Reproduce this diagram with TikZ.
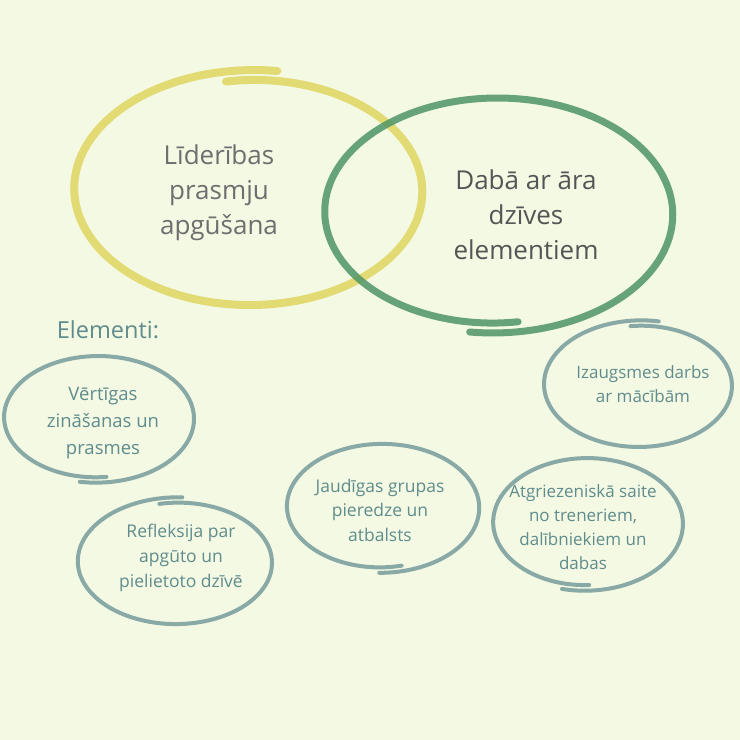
\documentclass[tikz,border=0pt]{standalone}
\usepackage{fontspec}
\setmainfont{Open Sans}
\usetikzlibrary{positioning}

\definecolor{bgcol}{HTML}{F4F9E4}
\definecolor{yellowcol}{HTML}{E2DB74}
\definecolor{greencol}{HTML}{4F9566}
\definecolor{tealcol}{HTML}{88A9A5}
\definecolor{bigtxtcol}{HTML}{6E6E6E}
\definecolor{darktxtcol}{HTML}{555555}
\definecolor{smalltxtcol}{HTML}{5F8C8C}

% hand drawn ring: style, cx, cy, rx, ry, start angle, end angle
\newcommand{\brushring}[7]{%
  \draw[#1] plot[domain=#6:#7, samples=140, smooth]
    ({#2+#4*(0.955+0.09*(\x-#6)/(#7-#6))*cos(\x)},
     {#3+#5*(0.955+0.09*(\x-#6)/(#7-#6))*sin(\x)});
}

\begin{document}
\begin{tikzpicture}[
    x=1pt, y=-1pt,
    yring/.style={draw=yellowcol, line width=8pt, line cap=round},
    gring/.style={draw=greencol, line width=7pt, line cap=round, opacity=0.85},
    tring/.style={draw=tealcol, line width=4pt, line cap=round},
    bigtxt/.style={align=center, text=bigtxtcol, font=\fontsize{26}{35}\selectfont},
    smalltxt/.style={align=center, text=smalltxtcol, font=\fontsize{17.5}{25}\selectfont},
  ]
  \fill[bgcol] (0,0) rectangle (740,740);
  \useasboundingbox (0,0) rectangle (740,740);

  % main rings
  \brushring{yring}{252}{190}{174}{115}{261}{638}
  \brushring{gring}{495}{213}{174}{115}{-278}{98}

  \node[bigtxt] (lead) at (219,193) {Līderības\\prasmju\\apgūšana};
  \node[bigtxt, text=darktxtcol] (nature) at (526,215) {Dabā ar āra\\dzīves\\elementiem};

  \node[text=smalltxtcol, font=\fontsize{23.5}{26}\selectfont] (elem) at (108,330) {Elementi:};

  % element rings
  \brushring{tring}{97}{418}{95}{62}{-276}{100}
  \brushring{tring}{640}{385}{94}{62}{264}{641}
  \brushring{tring}{381}{507}{96}{63}{-283}{91}
  \brushring{tring}{586}{523}{95}{65}{-272}{104}
  \brushring{tring}{177}{562}{97}{62}{259}{633}

  \node[smalltxt, font=\fontsize{18.5}{27}\selectfont] (know) at (103,423) {Vērtīgas\\zināšanas un\\prasmes};
  \node[smalltxt, font=\fontsize{17}{24}\selectfont] (growth) at (643,384) {Izaugsmes darbs\\ar mācībām};
  \node[smalltxt, font=\fontsize{17.5}{24.5}\selectfont] (group) at (380,510) {Jaudīgas grupas\\pieredze un\\atbalsts};
  \node[smalltxt, font=\fontsize{17}{24}\selectfont] (feedback) at (583,527) {Atgriezeniskā saite\\no treneriem,\\dalībniekiem un\\dabas};
  \node[smalltxt] (reflect) at (181,558) {Refleksija par\\apgūto un\\pielietoto dzīvē};
\end{tikzpicture}
\end{document}
